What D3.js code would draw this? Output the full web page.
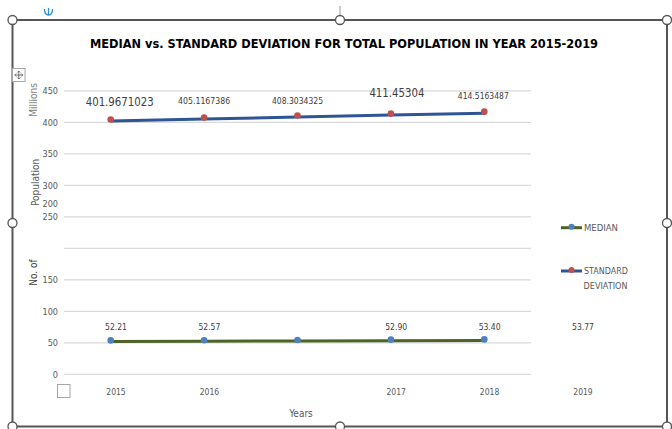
<!DOCTYPE html>
<html><head><meta charset="utf-8">
<script src="https://cdn.jsdelivr.net/npm/d3@7"></script>
<style>
html,body{margin:0;padding:0;background:#fff;}
svg{display:block;}
text{font-family:"Liberation Sans Narrow","DejaVu Sans Condensed","Liberation Sans",Arial,sans-serif;}
</style></head>
<body>
<svg id="chart" width="672" height="429"></svg>
<script>
// ---- data ----
const years = ["2015", "2016", "2017", "2018", "2019"];
const stdDev = [401.9671023, 405.1167386, 408.3034325, 411.45304, 414.5163487];
const stdDevLabels = ["401.9671023", "405.1167386", "408.3034325", "411.45304", "414.5163487"];
const median = [52.21, 52.57, 52.90, 53.40, 53.77];
const axisLabels = ["2015", "2016", "", "2017", "2018", "2019"];
const medianLabels = ["52.21", "52.57", "", "52.90", "53.40", "53.77"];
const yTicks = [0, 50, 100, 150, 200, 250, 300, 350, 400, 450];
const yTickLabels = ["0", "50", "100", "150", "", "250", "300", "350", "400", "450"];
const title = "MEDIAN vs. STANDARD DEVIATION FOR TOTAL POPULATION IN YEAR 2015-2019";
const seriesNames = ["MEDIAN", "STANDARD DEVIATION"];

// ---- drawing ----
const svg = d3.select("#chart");
const grey = "#595959";
const frame = "#555555";
const stdColor = "#2f5597", stdMarker = "#c0504d";
const medColor = "#4f6228", medMarker = "#4f81bd";

const y = d3.scaleLinear().domain([0, 450]).range([374.3, 90.8]);
const x = d3.scaleBand().domain(years).range([64, 531]);
const xc = d => x(d) + x.bandwidth() / 2;
const slots = d3.range(axisLabels.length);
const xs = d3.scaleBand().domain(slots).range([69.3, 69.3 + 93.4 * axisLabels.length]);
const xsc = i => xs(i) + xs.bandwidth() / 2;

// frame
svg.append("rect").attr("x", 12.5).attr("y", 20).attr("width", 654.5).attr("height", 406.5)
  .attr("fill", "none").attr("stroke", frame).attr("stroke-width", 2);
svg.append("line").attr("x1", 340).attr("x2", 340).attr("y1", 6).attr("y2", 15)
  .attr("stroke", "#999").attr("stroke-width", 1);

// title
svg.append("text").attr("x", 344).attr("y", 47.5).attr("text-anchor", "middle")
  .attr("font-size", 13).attr("font-weight", "bold").attr("fill", "#000")
  .attr("textLength", 508).attr("lengthAdjust", "spacingAndGlyphs").text(title);

// gridlines
svg.append("g").selectAll("line").data(yTicks).join("line")
  .attr("x1", 64).attr("x2", 531).attr("y1", d => y(d)).attr("y2", d => y(d))
  .attr("stroke", "#d9d9d9").attr("stroke-width", 1.2);

// y axis labels
const yAxis = d3.axisLeft(y).tickValues(yTicks).tickSize(0).tickPadding(0)
  .tickFormat((d, i) => yTickLabels[i]);
const ga = svg.append("g").attr("transform", "translate(58,0)").call(yAxis);
ga.select(".domain").remove();
ga.selectAll("text").attr("font-size", 9).attr("fill", grey)
  .style("font-family", '"Liberation Sans Narrow","DejaVu Sans Condensed",Arial,sans-serif');
// displaced "200" label (as in the reference)
svg.append("text").attr("x", 58).attr("y", y(270)).attr("dy", "0.32em")
  .attr("text-anchor", "end").attr("font-size", 9).attr("fill", grey).text(yTicks[4]);

// y axis title pieces
const yTitle = [
  {t: "Millions", x: 33, y: 100, c: "#7f7f7f", w: "normal"},
  {t: "Population", x: 35, y: 182.5, c: grey, w: "normal"},
  {t: "No. of", x: 33, y: 272.5, c: "#404040", w: "normal"}
];
yTitle.forEach(d => {
  svg.append("text").attr("transform", `translate(${d.x + 3.5},${d.y}) rotate(-90)`)
    .attr("text-anchor", "middle").attr("font-size", 10).attr("fill", d.c)
    .attr("font-weight", d.w).text(d.t);
});

// x labels
svg.append("g").selectAll("text").data(axisLabels).join("text")
  .attr("x", (d, i) => xsc(i)).attr("y", 394.5).attr("text-anchor", "middle")
  .attr("font-size", 8.5).attr("fill", grey).text(d => d);
svg.append("text").attr("x", 301).attr("y", 417).attr("text-anchor", "middle")
  .attr("font-size", 10).attr("fill", grey).text("Years");

// lines
const line = d3.line().x((d, i) => xc(years[i])).y(d => y(d));
svg.append("path").datum(stdDev).attr("d", line).attr("fill", "none")
  .attr("stroke", stdColor).attr("stroke-width", 3);
svg.append("g").selectAll("circle").data(stdDev).join("circle")
  .attr("cx", (d, i) => xc(years[i])).attr("cy", d => y(d) - 1.5).attr("r", 3.3)
  .attr("fill", stdMarker);
svg.append("path").datum(median).attr("d", line).attr("fill", "none")
  .attr("stroke", medColor).attr("stroke-width", 3);
svg.append("g").selectAll("circle").data(median).join("circle")
  .attr("cx", (d, i) => xc(years[i])).attr("cy", d => y(d) - 1).attr("r", 3.3)
  .attr("fill", medMarker);

// std dev data labels (layout per label)
const stdLabelLayout = [
  {dx: 9, yy: 105.5, fs: 12.5, w: 68},
  {dx: 0, yy: 103.5, fs: 9, w: 52},
  {dx: 0, yy: 103.5, fs: 9, w: 51},
  {dx: 6, yy: 97, fs: 12.5, w: 55},
  {dx: -1, yy: 99, fs: 9, w: 51}
];
svg.append("g").selectAll("text").data(stdDevLabels).join("text")
  .attr("x", (d, i) => xc(years[i]) + stdLabelLayout[i].dx)
  .attr("y", (d, i) => stdLabelLayout[i].yy)
  .attr("text-anchor", "middle").attr("font-size", (d, i) => stdLabelLayout[i].fs)
  .attr("textLength", (d, i) => stdLabelLayout[i].w).attr("lengthAdjust", "spacingAndGlyphs")
  .attr("fill", "#404040").text(d => d);

// median data labels
svg.append("g").selectAll("text").data(medianLabels).join("text")
  .attr("x", (d, i) => xsc(i)).attr("y", 329.5).attr("text-anchor", "middle")
  .attr("font-size", 8.5).attr("fill", "#404040").text(d => d);

// legend
const leg = [
  {name: seriesNames[0], y: 227.7, c: medColor, m: medMarker},
  {name: seriesNames[1], y: 271, c: stdColor, m: stdMarker}
];
leg.forEach(d => {
  svg.append("line").attr("x1", 561).attr("x2", 582).attr("y1", d.y).attr("y2", d.y)
    .attr("stroke", d.c).attr("stroke-width", 3);
  svg.append("circle").attr("cx", 571.5).attr("cy", d.y - 1).attr("r", 3).attr("fill", d.m);
});
svg.append("text").attr("x", 584).attr("y", 230.5).attr("font-size", 8.5).attr("fill", grey)
  .attr("textLength", 34).attr("lengthAdjust", "spacingAndGlyphs").text(seriesNames[0]);
const sdParts = seriesNames[1].split(" ");
svg.append("text").attr("x", 584).attr("y", 274).attr("font-size", 8.5).attr("fill", grey)
  .attr("textLength", 44).attr("lengthAdjust", "spacingAndGlyphs").text(sdParts[0]);
svg.append("text").attr("x", 583.5).attr("y", 288.5).attr("font-size", 8.5).attr("fill", grey)
  .attr("textLength", 44).attr("lengthAdjust", "spacingAndGlyphs").text(sdParts[1]);

// empty checkbox square and move icon
svg.append("rect").attr("x", 57.5).attr("y", 384.5).attr("width", 12.5).attr("height", 13)
  .attr("fill", "#fff").attr("stroke", "#a6a6a6").attr("stroke-width", 1);
svg.append("rect").attr("x", 12.5).attr("y", 68.5).attr("width", 12.5).attr("height", 13)
  .attr("fill", "#fff").attr("stroke", "#a6a6a6").attr("stroke-width", 1);
svg.append("path").attr("d", "M18.75,71 V79 M14.75,75 H22.75 M17.25,72.5 L18.75,71 L20.25,72.5 M17.25,77.5 L18.75,79 L20.25,77.5 M16.25,73.5 L14.75,75 L16.25,76.5 M21.25,73.5 L22.75,75 L21.25,76.5")
  .attr("fill", "none").attr("stroke", "#555").attr("stroke-width", 0.8);

// anchor icon
svg.append("path").attr("d", "M44.5,9 Q44.5,15 48.5,15 Q52.5,15 52.5,9 M48.5,8 V15")
  .attr("fill", "none").attr("stroke", "#2e8fd6").attr("stroke-width", 1.3);

// selection handles
const handles = [[12.5, 20], [340, 20], [667, 20], [12.5, 223], [667, 223], [12.5, 426.5], [340, 426.5], [667, 426.5]];
svg.append("g").selectAll("circle").data(handles).join("circle")
  .attr("cx", d => d[0]).attr("cy", d => d[1]).attr("r", 4.5)
  .attr("fill", "#fff").attr("stroke", frame).attr("stroke-width", 1.3);
</script>
</body></html>
